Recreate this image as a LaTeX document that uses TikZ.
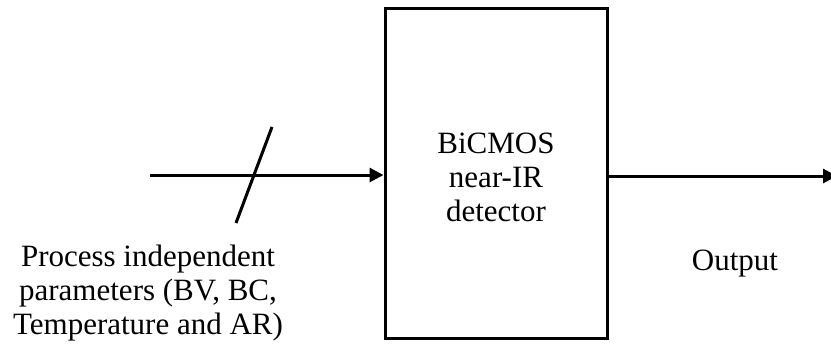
\documentclass[tikz,border=0pt]{standalone}
\usepackage{fontspec}
\setmainfont{Liberation Serif}
\usetikzlibrary{arrows.meta}
\tikzset{
  wire/.style={line width=3pt, -{Triangle[length=14pt,width=14pt]}},
  slash/.style={line width=3pt},
  blockbox/.style={draw, line width=3pt, minimum width=222pt, minimum height=330pt, inner sep=0pt},
  lbl/.style={align=center, inner sep=0pt, font=\fontsize{31}{34}\selectfont}
}
\begin{document}
\begin{tikzpicture}[x=1pt, y=-1pt]
  \useasboundingbox (0,0) rectangle (831,349);
  % detector block
  \node[blockbox] (det) at (496,173) {};
  \node[lbl] (dettext) at (496,177) {BiCMOS\\near-IR\\detector};
  % input bus with slash
  \coordinate (in) at (150,175);
  \draw[wire] (in) -- (in -| det.west);
  \coordinate (sa) at (236,223);
  \coordinate (sb) at (272,127);
  \draw[slash] (sa) -- (sb);
  \node[lbl] (inlabel) at (148,293) {Process independent\\parameters (BV, BC,\\Temperature and AR)};
  % output
  \coordinate (out) at (837,176);
  \draw[wire] (det.east |- out) -- (out);
  \node[lbl, anchor=base] (outlabel) at (735,270) {Output};
\end{tikzpicture}
\end{document}
